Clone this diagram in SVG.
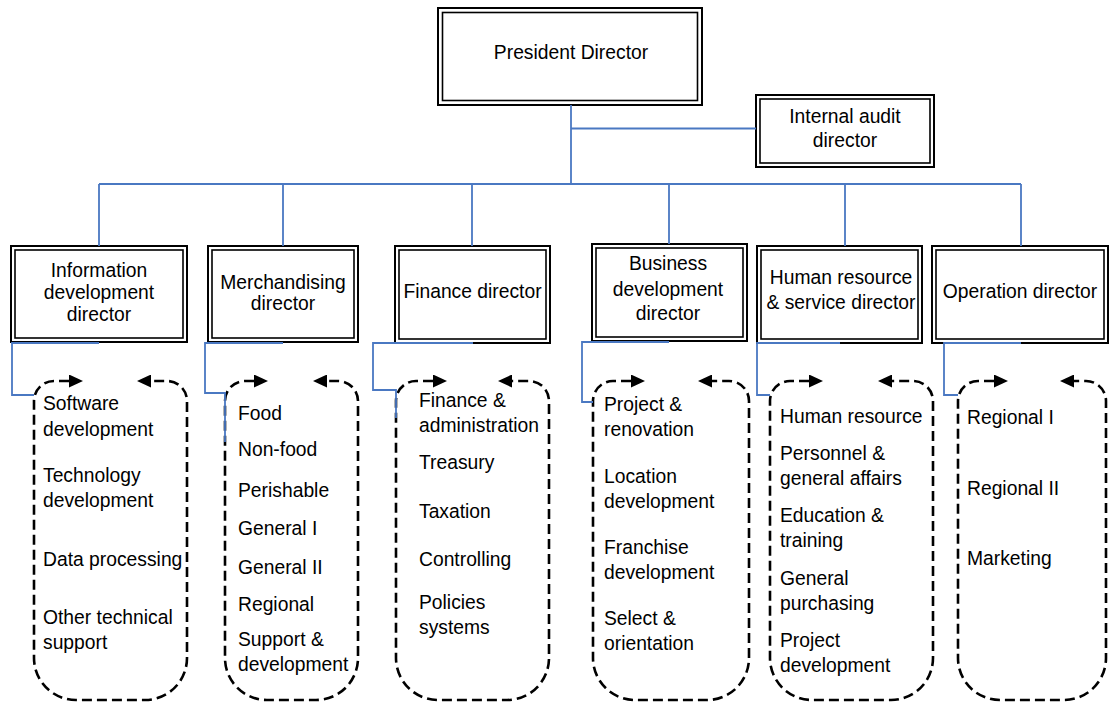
<svg xmlns="http://www.w3.org/2000/svg" width="1109" height="702" viewBox="0 0 1109 702">
  <style>
    text { font-family: "Liberation Sans", Arial, sans-serif; font-size: 19.3px; fill: #000; }
    .c { text-anchor: middle; }
    .outer { fill: #fff; stroke: #000; stroke-width: 2; }
    .inner { fill: none; stroke: #000; stroke-width: 1.6; }
    .group { fill: none; stroke: #000; stroke-width: 2.6; stroke-dasharray: 10 5; marker-start: url(#head); marker-end: url(#head); }
    .link { fill: none; stroke: #4a78c2; stroke-width: 1.8; }
  </style>
  <defs>
    <marker id="head" viewBox="0 0 14 13" refX="0" refY="6.5" markerWidth="14" markerHeight="13" markerUnits="userSpaceOnUse" orient="auto-start-reverse">
      <path d="M0 0 L14 6.5 L0 13 Z" fill="#000"/>
    </marker>
  </defs>
  <rect width="1109" height="702" fill="#fff"/>

  <!-- top level -->
  <g id="president">
    <rect class="outer" x="438" y="8" width="264" height="97"/>
    <rect class="inner" x="442.5" y="12.5" width="255" height="88"/>
    <text class="c" x="571" y="59">President Director</text>
  </g>
  <g id="internal-audit">
    <rect class="outer" x="756" y="95" width="178" height="72"/>
    <rect class="inner" x="760" y="99" width="170" height="64"/>
    <text class="c" x="845" y="123">Internal audit</text>
    <text class="c" x="845" y="147">director</text>
  </g>

  <!-- directors -->
  <g id="info-dev">
    <rect class="outer" x="11" y="246" width="176" height="96"/>
    <rect class="inner" x="15" y="250" width="168" height="88"/>
    <text class="c" x="99" y="277">Information</text>
    <text class="c" x="99" y="299">development</text>
    <text class="c" x="99" y="321">director</text>
  </g>
  <g id="merchandising">
    <rect class="outer" x="208" y="246" width="150" height="96"/>
    <rect class="inner" x="212" y="250" width="142" height="88"/>
    <text class="c" x="283" y="289">Merchandising</text>
    <text class="c" x="283" y="310">director</text>
  </g>
  <g id="finance">
    <rect class="outer" x="395" y="246" width="155" height="97"/>
    <rect class="inner" x="399" y="250" width="147" height="89"/>
    <text class="c" x="472.5" y="298">Finance director</text>
  </g>
  <g id="business-dev">
    <rect class="outer" x="592" y="244" width="155" height="97"/>
    <rect class="inner" x="596" y="248" width="147" height="89"/>
    <text class="c" x="668" y="270">Business</text>
    <text class="c" x="668" y="296">development</text>
    <text class="c" x="668" y="320">director</text>
  </g>
  <g id="hr-service">
    <rect class="outer" x="757" y="246" width="165" height="97"/>
    <rect class="inner" x="761" y="250" width="157" height="89"/>
    <text class="c" x="841" y="284">Human resource</text>
    <text class="c" x="841" y="309">&amp; service director</text>
  </g>
  <g id="operation">
    <rect class="outer" x="932" y="246" width="176" height="97"/>
    <rect class="inner" x="936" y="250" width="168" height="89"/>
    <text class="c" x="1020" y="298">Operation director</text>
  </g>

  <!-- departments -->
  <g id="info-dev-units">
    <path class="group" d="M69 381 H54 A20 20 0 0 0 34 401 V658 A42 42 0 0 0 76 700 H145 A42 42 0 0 0 187 658 V401 A20 20 0 0 0 167 381 H151"/>
    <text x="43" y="410">Software</text>
    <text x="43" y="436">development</text>
    <text x="43" y="482">Technology</text>
    <text x="43" y="507">development</text>
    <text x="43" y="566">Data processing</text>
    <text x="43" y="624">Other technical</text>
    <text x="43" y="649">support</text>
  </g>
  <g id="merchandising-units">
    <path class="group" d="M254 381 H245 A20 20 0 0 0 225 401 V658 A42 42 0 0 0 267 700 H316 A42 42 0 0 0 358 658 V401 A20 20 0 0 0 338 381 H327"/>
    <text x="238" y="420">Food</text>
    <text x="238" y="456">Non-food</text>
    <text x="238" y="497">Perishable</text>
    <text x="238" y="535">General I</text>
    <text x="238" y="574">General II</text>
    <text x="238" y="611">Regional</text>
    <text x="238" y="646">Support &amp;</text>
    <text x="238" y="671">development</text>
  </g>
  <g id="finance-units">
    <path class="group" d="M433 381 H416 A20 20 0 0 0 396 401 V658 A42 42 0 0 0 438 700 H507 A42 42 0 0 0 549 658 V401 A20 20 0 0 0 529 381 H512"/>
    <text x="419" y="407">Finance &amp;</text>
    <text x="419" y="432">administration</text>
    <text x="419" y="469">Treasury</text>
    <text x="419" y="518">Taxation</text>
    <text x="419" y="566">Controlling</text>
    <text x="419" y="609">Policies</text>
    <text x="419" y="634">systems</text>
  </g>
  <g id="business-dev-units">
    <path class="group" d="M631 381 H613 A20 20 0 0 0 593 401 V658 A42 42 0 0 0 635 700 H707 A42 42 0 0 0 749 658 V401 A20 20 0 0 0 729 381 H712"/>
    <text x="604" y="411">Project &amp;</text>
    <text x="604" y="436">renovation</text>
    <text x="604" y="483">Location</text>
    <text x="604" y="508">development</text>
    <text x="604" y="554">Franchise</text>
    <text x="604" y="579">development</text>
    <text x="604" y="625">Select &amp;</text>
    <text x="604" y="650">orientation</text>
  </g>
  <g id="hr-service-units">
    <path class="group" d="M809 381 H790 A20 20 0 0 0 770 401 V658 A42 42 0 0 0 812 700 H891 A42 42 0 0 0 933 658 V401 A20 20 0 0 0 913 381 H892"/>
    <text x="780" y="423">Human resource</text>
    <text x="780" y="460">Personnel &amp;</text>
    <text x="780" y="485">general affairs</text>
    <text x="780" y="522">Education &amp;</text>
    <text x="780" y="547">training</text>
    <text x="780" y="585">General</text>
    <text x="780" y="610">purchasing</text>
    <text x="780" y="647">Project</text>
    <text x="780" y="672">development</text>
  </g>
  <g id="operation-units">
    <path class="group" d="M994 381 H978 A20 20 0 0 0 958 401 V658 A42 42 0 0 0 1000 700 H1064 A42 42 0 0 0 1106 658 V401 A20 20 0 0 0 1086 381 H1074"/>
    <text x="967" y="424">Regional I</text>
    <text x="967" y="495">Regional II</text>
    <text x="967" y="565">Marketing</text>
  </g>

  <!-- reporting lines -->
  <g id="connectors" class="link">
    <path d="M571 105 V184"/>
    <path d="M571 128.5 H756"/>
    <path d="M99 184 H1021"/>
    <path d="M99 184 V246 M283 184 V246 M472 184 V246 M669 184 V244 M845 184 V246 M1021 184 V246"/>
    <path d="M99 343 H12 V395 H34"/>
    <path d="M283 343 H205 V393 H225 V442"/>
    <path d="M473 343 H373 V390 H396 V418"/>
    <path d="M669 342 H582 V402 H593"/>
    <path d="M840 343 H757 V395 H770"/>
    <path d="M1021 343 H944 V395 H958"/>
  </g>
</svg>
